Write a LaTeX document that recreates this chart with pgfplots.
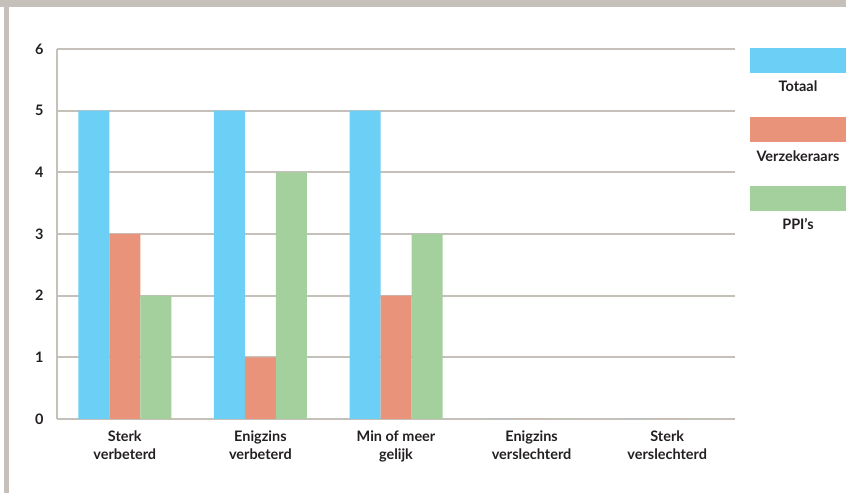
\documentclass[border=0pt]{standalone}
\usepackage{pgfplots}
\pgfplotsset{compat=1.18}
\usepackage{fontspec}
\setmainfont{Lato}
\definecolor{cblue}{HTML}{6CCFF6}
\definecolor{cred}{HTML}{E8937A}
\definecolor{cgreen}{HTML}{A3D09C}
\definecolor{cgray}{HTML}{C6C0BB}
\definecolor{ctext}{HTML}{231F20}
\begin{document}
\begin{tikzpicture}[x=1bp,y=1bp]
\path[use as bounding box] (0,0) rectangle (846,493);
\fill[cgray] (0,486) rectangle (846,493);
\fill[cgray] (4,0) rectangle (9,493);
\begin{axis}[
  at={(57bp,74bp)}, anchor=south west,
  width=678bp, height=370bp, scale only axis,
  xmin=-0.5, xmax=4.5, ymin=0, ymax=6,
  ytick={0,1,2,3,4,5,6},
  xtick={0,1,2,3,4},
  xticklabels={{Sterk\\verbeterd},{Enigzins\\verbeterd},{Min of meer\\gelijk},{Enigzins\\verslechterd},{Sterk\\verslechterd}},
  /pgf/number format/assume math mode=true,
  axis x line=bottom, axis y line=left,
  axis line style={cgray, line width=2bp, -},
  ymajorgrids, grid style={cgray, line width=2bp},
  major tick length=0pt,
  tick label style={font=\fontsize{14.5}{18}\selectfont\bfseries, text=ctext},
  xticklabel style={align=center, yshift=-8bp},
  yticklabel style={xshift=-10bp},
  ybar=0pt, bar width=31bp,
  every axis plot/.append style={draw=none},
]
\addplot[fill=cblue] coordinates {(0,5) (1,5) (2,5) (3,0) (4,0)};
\addplot[fill=cred] coordinates {(0,3) (1,1) (2,2) (3,0) (4,0)};
\addplot[fill=cgreen] coordinates {(0,2) (1,4) (2,3) (3,0) (4,0)};
\end{axis}
\begin{scope}[every node/.style={font=\fontsize{14.5}{18}\selectfont\bfseries, text=ctext}]
\fill[cblue] (750,420) rectangle (846,445);
\node at (798,407) {Totaal};
\fill[cred] (750,351) rectangle (846,376);
\node at (798,337) {Verzekeraars};
\fill[cgreen] (750,282) rectangle (846,307);
\node at (798,269) {PPI’s};
\end{scope}
\end{tikzpicture}
\end{document}
